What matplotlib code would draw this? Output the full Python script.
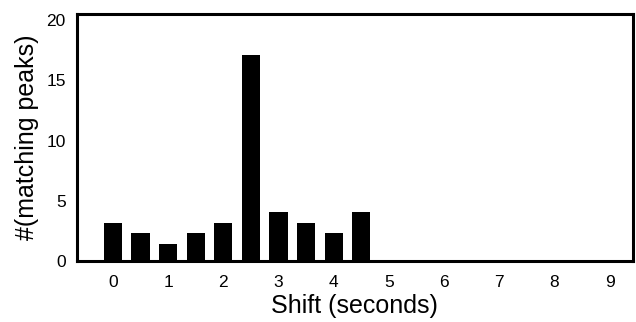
import numpy as np
import matplotlib
matplotlib.use('Agg')
import matplotlib.pyplot as plt

# Datos
shift_s = [0, 0.5, 1, 1.5, 2, 2.5, 3, 3.5, 4, 4.5]
n_peaks = [3.2, 2.35, 1.45, 2.35, 3.2, 17.1, 4.05, 3.2, 2.35, 4.05]
xticks = list(range(10))
yticks = [0, 5, 10, 15, 20]

plt.rcParams['font.family'] = ['Liberation Sans', 'DejaVu Sans']

fig = plt.figure(figsize=(6.36, 3.22), dpi=100)
ax = fig.add_axes([0.121, 0.189, 0.874, 0.768])

ax.bar(shift_s, n_peaks, width=0.33, color='black')

ax.set_xlim(-0.65, 9.42)
ax.set_ylim(0, 20.5)
ax.set_xticks(xticks)
ax.set_yticks(yticks)
ax.tick_params(length=0, labelsize=12.5, pad=10)
ax.tick_params(axis='y', pad=8)

for s in ax.spines.values():
    s.set_linewidth(2.2)

ax.set_xlabel('Shift (seconds)', fontsize=18, labelpad=3)
ax.set_ylabel('#(matching peaks)', fontsize=18, labelpad=5)

fig.savefig('out.png', dpi=100)
